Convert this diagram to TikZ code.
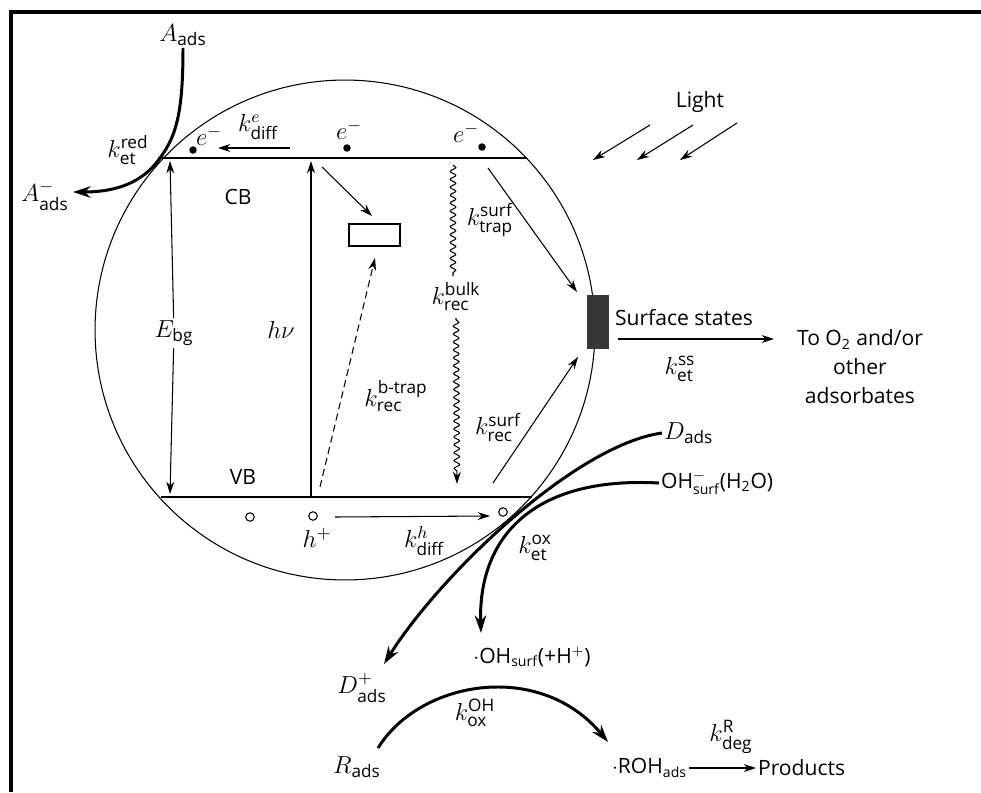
\documentclass[tikz,border=0pt]{standalone}
\usepackage{fix-cm}
\usepackage{amsmath}
\usepackage{fontspec}
\setsansfont{Open Sans}
\usetikzlibrary{arrows.meta,decorations.pathmorphing}
\tikzset{
  lbl/.style={font=\fontsize{14}{16}\selectfont, inner sep=1pt},
  sf/.style={font=\sffamily\fontsize{12}{14}\selectfont, inner sep=1pt},
  thinln/.style={line width=0.6pt},
  band/.style={line width=1.5pt},
  thk/.style={line width=1.7pt},
  arr/.style={-{Stealth[length=7pt,width=4.5pt]}},
  tarr/.style={-{Stealth[length=10pt,width=6.5pt]}},
  dot/.style={circle,fill,inner sep=0pt,minimum size=0.15cm},
  hole/.style={circle,draw,line width=0.6pt,inner sep=0pt,minimum size=0.17cm},
  wavy/.style={decorate,decoration={snake,amplitude=1.6pt,segment length=4.5pt,post length=6pt,pre length=1pt}},
}
\begin{document}
\begin{tikzpicture}[x=0.02cm,y=-0.02cm]
\useasboundingbox[fill=white] (0,0) rectangle (981,792);
% frame
\draw[line width=2.3pt] (9,12) -- (981,12);
\draw[line width=2.3pt] (11,11) -- (11,792);
% particle
\node[circle,draw,thinln,minimum size=10cm,inner sep=0pt] (particle) at (345,330) {};
% bands
\coordinate (cbL) at (158,158); \coordinate (cbR) at (527,158);
\coordinate (vbL) at (161,497); \coordinate (vbR) at (532,497);
\draw[band] (cbL) -- (cbR);
\draw[band] (vbL) -- (vbR);
\node[sf] (CB) at (238,197) {CB};
\node[sf] (VB) at (243,477) {VB};
% band gap
\node[lbl,fill=white] (Ebg) at (174,333) {$E_{\textsf{bg}}$};
\coordinate (ebgT) at (170,161); \coordinate (ebgB) at (170,494);
\draw[thinln,arr] (Ebg) -- (ebgT);
\draw[thinln,arr] (Ebg) -- (ebgB);
% h nu
\node[lbl] (hnu) at (281,330) {$h\nu$};
\coordinate (hvB) at (311,497); \coordinate (hvT) at (311,161);
\draw[thinln,arr] (hvB) -- (hvT);
% electrons
\node[dot] (d1) at (193,150) {};
\node[dot] (d2) at (347,148) {};
\node[dot] (d3) at (482,147) {};
\node[lbl] (e1) at (209,136) {$e^{-}$};
\node[lbl] (e2) at (349,130) {$e^{-}$};
\node[lbl] (e3) at (466,133) {$e^{-}$};
\node[lbl] (kde) at (258,127) {$k^{e}_{\textsf{diff}}$};
\coordinate (edS) at (290,148); \coordinate (edE) at (218,148);
\draw[thinln,arr] (edS) -- (edE);
% bulk trap
\node[draw,thinln,minimum width=1.02cm,minimum height=0.44cm,inner sep=0pt] (trap) at (374.5,235) {};
\coordinate (ctS) at (322,167); \coordinate (ctE) at (372,216);
\draw[thinln,arr] (ctS) -- (ctE);
\coordinate (btS) at (320,487); \coordinate (btE) at (375,258);
\draw[thinln,arr,dash pattern=on 4pt off 2.5pt] (btS) -- (btE);
\node[lbl] (kbt) at (396,396) {$k^{\textsf{b-trap}}_{\textsf{rec}}$};
% bulk recombination (wavy)
\node[lbl] (kbulk) at (456,297) {$k^{\textsf{bulk}}_{\textsf{rec}}$};
\coordinate (wT) at (453,165); \coordinate (wB) at (457,484);
\draw[thinln,decorate,decoration={snake,amplitude=1.6pt,segment length=4.5pt}] (wT) -- (453,276);
\draw[thinln,arr,wavy] (456,318) -- (wB);
% surface trapping
\node[lbl] (ktrap) at (490,220) {$k^{\textsf{surf}}_{\textsf{trap}}$};
\node[fill={rgb,255:red,55;green,55;blue,55},minimum width=0.44cm,minimum height=1.08cm,inner sep=0pt] (ss) at (598,322) {};
\coordinate (stS) at (488,168); \coordinate (stE) at (577,292);
\draw[thinln,arr] (stS) -- (stE);
\node[lbl] (krec) at (498,427) {$k^{\textsf{surf}}_{\textsf{rec}}$};
\coordinate (srS) at (493,483); \coordinate (srE) at (578,357);
\draw[thinln,arr] (srS) -- (srE);
\node[sf,anchor=west] (sstxt) at (613,318) {Surface states};
\coordinate (ssS) at (618,339); \coordinate (ssE) at (774,339);
\draw[thinln,arr] (ssS) -- (ssE);
\node[lbl] (kss) at (680,369) {$k^{\textsf{ss}}_{\textsf{et}}$};
\node[sf,align=center,font=\sffamily\fontsize{12}{16.5}\selectfont] (O2) at (860,367) {To O$_{\textsf{2}}$ and/or\\other\\adsorbates};
% light
\node[sf] (light) at (700,102) {Light};
\coordinate (l1S) at (650,125); \coordinate (l1E) at (593,160);
\coordinate (l2S) at (693,125); \coordinate (l2E) at (637,160);
\coordinate (l3S) at (737,123); \coordinate (l3E) at (680,160);
\draw[thinln,arr] (l1S) -- (l1E);
\draw[thinln,arr] (l2S) -- (l2E);
\draw[thinln,arr] (l3S) -- (l3E);
% holes
\node[hole] (h1) at (250,517) {};
\node[hole] (h2) at (313,516) {};
\node[hole] (h3) at (503,512) {};
\node[lbl] (hp) at (317,538) {$h^{+}$};
\node[lbl] (kdh) at (424,541) {$k^{h}_{\textsf{diff}}$};
\coordinate (hdS) at (335,517); \coordinate (hdE) at (490,516);
\draw[thinln,arr] (hdS) -- (hdE);
% reduction of A
\node[lbl] (Aads) at (183,35) {$A_{\textsf{ads}}$};
\node[lbl] (Am) at (45,196) {$A^{-}_{\textsf{ads}}$};
\node[lbl] (kred) at (128,150) {$k^{\textsf{red}}_{\textsf{et}}$};
\coordinate (aEnd) at (73,192);
\draw[thk,tarr] (Aads.south) .. controls (183,115) and (176,138) .. (157,162) .. controls (138,186) and (110,192) .. (aEnd);
% oxidation
\node[lbl,anchor=west] (Dads) at (662,433) {$D_{\textsf{ads}}$};
\node[sf,anchor=west] (OHm) at (659,483) {OH$^{-}_{\textsf{surf}}$(H$_{\textsf{2}}$O)};
\node[lbl] (kox) at (535,548) {$k^{\textsf{ox}}_{\textsf{et}}$};
\node[lbl] (Dp) at (362,688) {$D^{+}_{\textsf{ads}}$};
\node[sf] (OHs) at (532,657) {$\cdot$OH$_{\textsf{surf}}$(+H$^{+}$)};
\coordinate (dEnd) at (384,664); \coordinate (ohEnd) at (481,633);
\draw[thk,tarr] (Dads.west) .. controls (575,445) and (440,575) .. (dEnd);
\draw[thk,tarr] (OHm.west) .. controls (530,476) and (478,540) .. (ohEnd);
% R oxidation
\node[lbl] (Rads) at (357,767) {$R_{\textsf{ads}}$};
\node[lbl] (kOH) at (475,713) {$k^{\textsf{OH}}_{\textsf{ox}}$};
\node[sf,anchor=west] (ROH) at (610,768) {$\cdot$ROH$_{\textsf{ads}}$};
\node[sf,anchor=west] (Prod) at (756,768) {Products};
\node[lbl] (kdeg) at (731,737) {$k^{\textsf{R}}_{\textsf{deg}}$};
\coordinate (rS) at (378,748); \coordinate (rE) at (608,742);
\draw[thk,tarr] (rS) .. controls (420,680) and (540,660) .. (rE);
\draw[thinln,arr] (ROH.east) -- (Prod.west);
\end{tikzpicture}
\end{document}
